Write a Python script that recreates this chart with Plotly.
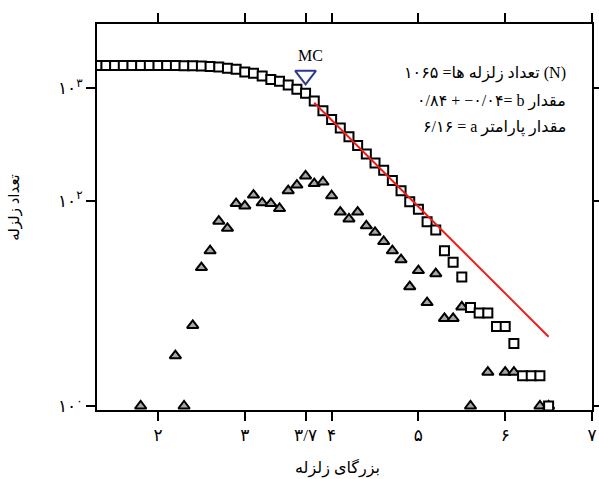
import plotly.graph_objects as go

# ---------------- data ----------------
mag_cum = [1.3, 1.4, 1.5, 1.6, 1.7, 1.8, 1.9, 2.0, 2.1, 2.2, 2.3, 2.4, 2.5, 2.6, 2.7,
           2.8, 2.9, 3.0, 3.1, 3.2, 3.3, 3.4, 3.5, 3.6, 3.7, 3.8, 3.9, 4.0, 4.1, 4.2,
           4.3, 4.4, 4.5, 4.6, 4.7, 4.8, 4.9, 5.0, 5.1, 5.2, 5.3, 5.4, 5.5, 5.6, 5.7,
           5.8, 5.9, 6.0, 6.1, 6.2, 6.3, 6.4, 6.5]
n_cum = [1065, 1065, 1065, 1065, 1065, 1065, 1064, 1064, 1064, 1064, 1061, 1060, 1055, 1045, 1030,
         1004, 984, 931, 906, 858, 801, 770, 713, 653, 602, 514, 422, 353, 296, 248,
         207, 174, 145, 125, 101, 82, 65.5, 56, 43.5, 36.7, 24, 19, 14, 7.5, 6.7,
         6.7, 5.1, 5.1, 3.6, 1.86, 1.86, 1.86, 1]

mag_nc = [1.8, 2.2, 2.3, 2.4, 2.5, 2.6, 2.7, 2.8, 2.9, 3.0, 3.1, 3.2, 3.3, 3.4, 3.5,
          3.6, 3.7, 3.8, 3.9, 4.0, 4.1, 4.2, 4.3, 4.4, 4.5, 4.6, 4.7, 4.8, 4.9, 5.0,
          5.1, 5.2, 5.3, 5.4, 5.5, 5.6, 5.8, 6.0, 6.1, 6.4, 6.5]
n_nc = [1, 2.8, 1, 5.2, 17, 24, 44, 38, 63, 60, 75, 64, 63, 57, 82,
        92, 111, 95, 98, 74, 53, 46, 53, 40, 35, 29, 24, 20, 11.5, 16,
        8.3, 15, 6, 6, 7.6, 1, 2, 2, 2, 1, 1]

fit_mag = [3.8, 6.5]
fit_n = [497, 4.13]

mc_mag = [3.7]
mc_n = [870]

x_tick_vals = [2, 3, 3.7, 4, 5, 6, 7]
x_tick_text = ["۲", "۳", "۳/۷", "۴", "۵", "۶", "۷"]
y_tick_vals = [1, 67, 670]
y_tick_text = ["۱۰<sup>۰</sup>", "۱۰<sup>۲</sup>", "۱۰<sup>۳</sup>"]

x_title = "بزرگای زلزله"
y_title = "تعداد زلزله"
info_lines = [
    "۱۰۶۵ =" + "تعداد زلزله ها" + " (N)",
    "۰/۸۴ + −۰/۰۴= b " + "مقدار",
    "۶/۱۶ = a " + "مقدار پارامتر",
]

FONT = "Liberation Serif, DejaVu Sans, serif"

fig = go.Figure()
fig.add_trace(go.Scatter(
    x=mag_nc, y=n_nc, mode="markers",
    marker=dict(symbol="triangle-up", size=10, color="#a6a6a6",
                line=dict(color="black", width=2)),
    showlegend=False))
fig.add_trace(go.Scatter(
    x=mag_cum, y=n_cum, mode="markers",
    marker=dict(symbol="square", size=9, color="white",
                line=dict(color="black", width=2)),
    showlegend=False))
fig.add_trace(go.Scatter(
    x=fit_mag, y=fit_n, mode="lines",
    line=dict(color="#ee1c1c", width=2), showlegend=False))
fig.add_trace(go.Scatter(
    x=mc_mag, y=mc_n, mode="markers",
    marker=dict(symbol="triangle-down-open", size=18, color="#2b3990",
                line=dict(color="#2b3990", width=2)),
    showlegend=False))

fig.add_annotation(x=0.432, y=0.946, xref="paper", yref="paper", text="MC",
                   showarrow=False, font=dict(family=FONT, size=16, color="black"))
for txt, yy in zip(info_lines, [0.873, 0.798, 0.731]):
    fig.add_annotation(x=0.9515, y=yy, xref="paper", yref="paper", text=txt,
                       xanchor="right", yanchor="middle", showarrow=False,
                       font=dict(family=FONT, size=16, color="black"))

# axis titles
fig.add_annotation(x=0.485, y=-0.150, xref="paper", yref="paper", text=x_title,
                   showarrow=False, xanchor="center", yanchor="middle",
                   font=dict(family=FONT, size=16, color="black"))
fig.add_annotation(x=-0.166, y=0.526, xref="paper", yref="paper", text=y_title,
                   showarrow=False, xanchor="center", yanchor="middle", textangle=-90,
                   font=dict(family=FONT, size=15, color="black"))

fig.update_xaxes(range=[1.297, 7.0], tickvals=x_tick_vals, ticktext=x_tick_text,
                 showline=True, linecolor="black", linewidth=2, mirror="ticks",
                 ticks="outside", ticklen=9, tickwidth=2, tickcolor="black",
                 showgrid=False, zeroline=False, automargin=False,
                 tickfont=dict(family=FONT, size=17, color="black"))
fig.update_yaxes(type="log", range=[-0.0356, 3.396], tickvals=y_tick_vals,
                 ticktext=y_tick_text,
                 showline=True, linecolor="black", linewidth=2, mirror="ticks",
                 ticks="outside", ticklen=9, tickwidth=2, tickcolor="black",
                 showgrid=False, zeroline=False, automargin=False,
                 tickfont=dict(family=FONT, size=17, color="black"))

fig.update_layout(width=599, height=479, margin=dict(l=97, r=7, t=24, b=69),
                  plot_bgcolor="white", paper_bgcolor="white")

fig.write_html("out.html", config={"displayModeBar": False},
               post_script="document.body.style.margin='0';document.body.style.overflow='hidden';")
